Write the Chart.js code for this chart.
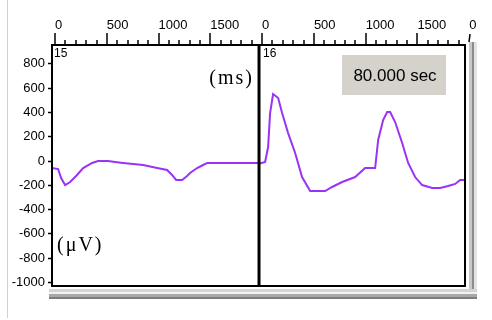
<!DOCTYPE html>
<html>
<head>
<meta charset="utf-8">
<script src="https://cdn.jsdelivr.net/npm/chart.js@4"></script>
<style>
  html,body{margin:0;padding:0;background:#fff;}
  canvas{display:block;}
</style>
</head>
<body>
<canvas id="chart" width="492" height="320"></canvas>
<script>
// Panel 15 (ms, µV)
const p15Time = [-29, 29, 58, 97, 145, 203, 271, 357, 415, 512, 580, 657, 850, 986, 1082, 1130, 1169, 1227, 1275, 1304, 1372, 1430, 1469, 1691, 1961];
const p15Vals = [-58, -66, -140, -198, -173, -123, -58, -16, 0, 0, -8, -16, -33, -58, -74, -115, -156, -156, -123, -99, -58, -33, -16, -16, -16];

// Panel 16 (ms, µV)
const p16Time = [-39, 29, 58, 77, 106, 155, 193, 251, 319, 386, 464, 609, 676, 773, 899, 995, 1092, 1121, 1169, 1208, 1237, 1285, 1353, 1411, 1478, 1546, 1643, 1720, 1797, 1865, 1913, 1961];
const p16Vals = [-25, -8, 115, 395, 551, 519, 395, 230, 66, -132, -247, -247, -214, -173, -132, -58, -58, 173, 337, 403, 403, 321, 148, -16, -132, -198, -222, -222, -206, -189, -156, -156];

// axes
const panelLen = 2000;
const xMin = -30, xMax = 3960, divider = 1970;
const xTickVals = [0, 500, 1000, 1500, 2000, 2500, 3000, 3500, 4000];
const xTickLabels = ["0", "500", "1000", "1500", "0", "500", "1000", "1500", "0"];
const yMin = -1029, yMax = 955;
const yTickVals = [800, 600, 400, 200, 0, -200, -400, -600, -800, -1000];
const panelNames = ["15", "16"];
const timeLabel = "80.000 sec";

const sans = "'Liberation Sans',Arial,sans-serif";
const purple = "#9933f5";

const pts15 = p15Time.map((t, i) => ({x: t, y: p15Vals[i]}));
const pts16 = p16Time.map((t, i) => ({x: t + panelLen, y: p16Vals[i]}));

// window frame + shadow, box, ticks, labels
const frame = {
  id: "frame",
  beforeDraw(chart){
    const c = chart.ctx, a = chart.chartArea;
    c.save();
    c.fillStyle = "#d0d0d0";
    c.fillRect(7, 0, 1, 318);
    // right shadow
    c.fillStyle = "#c8c8c8"; c.fillRect(a.right + 4, a.top - 3, 3, a.bottom - a.top + 16);
    c.fillStyle = "#8c8c8c"; c.fillRect(a.right + 7, a.top - 3, 2, a.bottom - a.top + 16);
    c.fillStyle = "#e4e4e4"; c.fillRect(a.right + 9, a.top - 3, 3, a.bottom - a.top + 16);
    // bottom shadow
    c.fillStyle = "#d4d4d4"; c.fillRect(a.left - 3, a.bottom + 3, a.right - a.left + 15, 3);
    c.fillStyle = "#f2f2f2"; c.fillRect(a.left - 3, a.bottom + 6, a.right - a.left + 15, 2);
    c.fillStyle = "#a8a8a8"; c.fillRect(a.left - 3, a.bottom + 8, a.right - a.left + 15, 3);
    c.fillStyle = "#7c7c7c"; c.fillRect(a.left - 3, a.bottom + 11, a.right - a.left + 15, 2);
    c.restore();
  },
  afterDraw(chart){
    const c = chart.ctx, a = chart.chartArea;
    const xs = chart.scales.x;
    c.save();
    c.strokeStyle = "#000";
    // box + divider
    c.lineWidth = 2;
    c.strokeRect(a.left, a.top, a.right - a.left, a.bottom - a.top);
    const dx = xs.getPixelForValue(divider);
    c.lineWidth = 3;
    c.beginPath(); c.moveTo(dx, a.top); c.lineTo(dx, a.bottom); c.stroke();
    // top ticks
    c.lineWidth = 1.5;
    for (let v = 0; v < 4000; v += 100) {
      const px = Math.round(xs.getPixelForValue(v));
      const len = v % 500 === 0 ? 12 : 5;
      c.beginPath(); c.moveTo(px, a.top); c.lineTo(px, a.top - len); c.stroke();
    }
    const ex = Math.round(xs.getPixelForValue(4000));
    c.beginPath(); c.moveTo(ex, a.top - 3); c.lineTo(ex + 1, a.top - 11); c.stroke();
    // panel names
    c.fillStyle = "#000";
    c.font = "12px " + sans;
    c.textBaseline = "top";
    c.fillText(panelNames[0], a.left + 2, a.top + 3);
    c.fillText(panelNames[1], dx + 4, a.top + 3);
    // units
    c.font = "20px 'Liberation Serif','DejaVu Serif',serif";
    c.letterSpacing = "2px";
    c.textBaseline = "middle";
    c.textAlign = "right";
    c.fillText("(ms)", dx - 5, a.top + 34);
    c.textAlign = "left";
    c.fillText("(\u03bcV)", a.left + 5, a.bottom - 40);
    c.letterSpacing = "0px";
    // time box
    c.fillStyle = "#d5d2cc";
    c.fillRect(342, 55, 104, 40);
    c.fillStyle = "#000";
    c.font = "17px " + sans;
    c.textAlign = "center";
    c.fillText(timeLabel, 395, 76);
    c.restore();
  }
};

new Chart(document.getElementById("chart"), {
  type: "line",
  data: {
    datasets: [
      {data: pts15, borderColor: purple, borderWidth: 2, pointRadius: 0, tension: 0},
      {data: pts16, borderColor: purple, borderWidth: 2, pointRadius: 0, tension: 0}
    ]
  },
  options: {
    responsive: false,
    animation: false,
    layout: {padding: {left: 0, top: 0, right: 27, bottom: 34}},
    plugins: {legend: {display: false}, tooltip: {enabled: false}},
    scales: {
      x: {
        type: "linear",
        position: "top",
        min: xMin, max: xMax,
        afterBuildTicks: s => { s.ticks = xTickVals.map(v => ({value: v})); },
        afterFit: s => { s.height = 45; },
        border: {display: false},
        grid: {drawOnChartArea: false, drawTicks: true, tickLength: 12, tickColor: "rgba(0,0,0,0)"},
        ticks: {
          align: "start", padding: 0, maxRotation: 0, autoSkip: false,
          color: "#000", font: {family: sans, size: 13},
          callback: (v, i) => xTickLabels[i]
        }
      },
      y: {
        type: "linear",
        min: yMin, max: yMax,
        afterBuildTicks: s => { s.ticks = yTickVals.map(v => ({value: v})); },
        afterFit: s => { s.width = 52; },
        border: {display: false},
        grid: {drawOnChartArea: false, drawTicks: true, tickLength: 4, tickColor: "#000", tickWidth: 1.5},
        ticks: {
          padding: 3, autoSkip: false,
          color: "#000", font: {family: sans, size: 13},
          callback: v => String(v)
        }
      }
    }
  },
  plugins: [frame]
});
</script>
</body>
</html>
